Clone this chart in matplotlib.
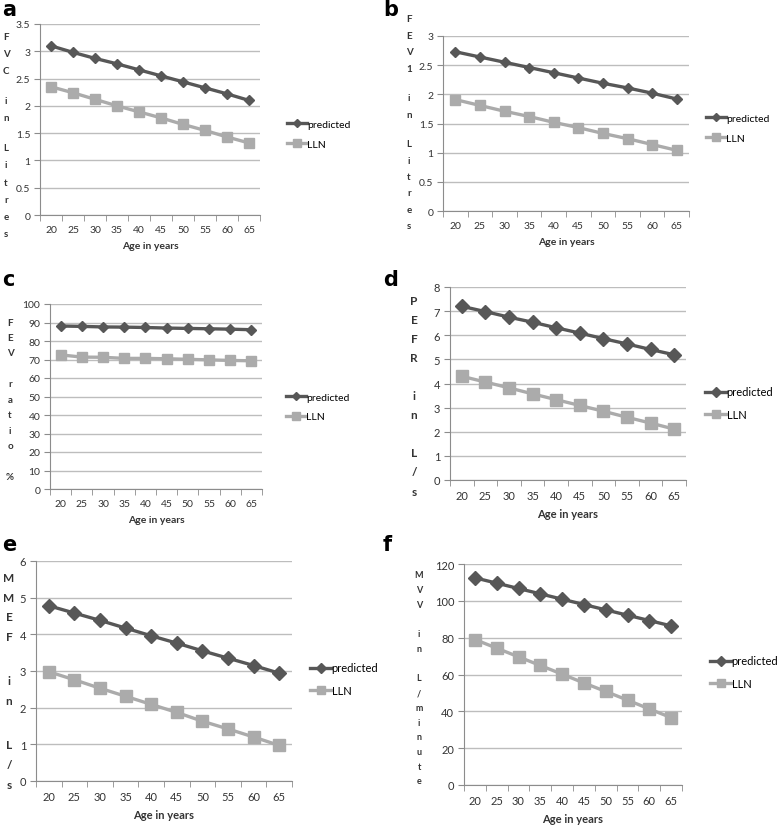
import matplotlib.pyplot as plt
from matplotlib.ticker import MultipleLocator, FormatStrFormatter

plt.rcParams['font.family'] = ['Lato', 'DejaVu Sans']

ages = [20, 25, 30, 35, 40, 45, 50, 55, 60, 65]

fvc_pred = [3.10, 2.98, 2.87, 2.77, 2.66, 2.55, 2.44, 2.33, 2.22, 2.10]
fvc_lln = [2.35, 2.24, 2.12, 2.00, 1.89, 1.78, 1.66, 1.55, 1.43, 1.32]

fev1_pred = [2.73, 2.64, 2.55, 2.46, 2.37, 2.28, 2.19, 2.11, 2.02, 1.92]
fev1_lln = [1.91, 1.81, 1.71, 1.62, 1.52, 1.43, 1.33, 1.24, 1.14, 1.04]

ratio_pred = [88.1, 87.9, 87.6, 87.5, 87.3, 87.0, 86.8, 86.6, 86.4, 86.1]
ratio_lln = [72.5, 71.3, 71.2, 70.6, 70.6, 70.4, 70.1, 69.8, 69.5, 69.3]

pefr_pred = [7.20, 6.98, 6.75, 6.54, 6.31, 6.09, 5.86, 5.64, 5.41, 5.19]
pefr_lln = [4.30, 4.06, 3.82, 3.57, 3.33, 3.09, 2.85, 2.60, 2.36, 2.11]

mmef_pred = [4.78, 4.58, 4.38, 4.17, 3.96, 3.76, 3.55, 3.35, 3.15, 2.94]
mmef_lln = [2.98, 2.76, 2.53, 2.31, 2.09, 1.87, 1.63, 1.42, 1.20, 0.97]

mvv_pred = [112.5, 109.6, 106.7, 103.8, 100.9, 98.0, 95.1, 92.2, 89.3, 86.4]
mvv_lln = [79.0, 74.3, 69.6, 64.9, 60.2, 55.4, 50.8, 46.1, 41.3, 36.6]

W, H = 778, 829
fig = plt.figure(figsize=(W / 100, H / 100), dpi=100)

DARK = '#575757'
LIGHT = '#ababab'
GRID = '#bdbdbd'
SPINE = '#8c8c8c'


def px_axes(l, r, t, b):
    return fig.add_axes([l / W, 1 - b / H, (r - l) / W, (b - t) / H])


def stacked(x, y0, text, step, gap, fs):
    # vertical letter-by-letter y label, like the original Excel export
    y = y0
    for ch in text:
        if ch == ' ':
            y += step * gap
            continue
        fig.text(x / W, 1 - y / H, ch, ha='center', va='center',
                 fontsize=fs, fontweight='bold', color='#333333')
        y += step


def panel(box, pred, lln, ymax, ystep, letter, letter_xy, ylab, leg_xy, fs, ms):
    ax = px_axes(*box)
    xs = range(len(ages))
    ax.plot(xs, pred, color=DARK, lw=2.4, marker='D', ms=ms * 0.85,
            label='predicted', zorder=3)
    ax.plot(xs, lln, color=LIGHT, lw=2.4, marker='s', ms=ms,
            label='LLN', zorder=3)
    ax.set_xlim(-0.5, len(ages) - 0.5)
    ax.set_ylim(0, ymax)
    ax.yaxis.set_major_locator(MultipleLocator(ystep))
    ax.yaxis.set_major_formatter(FormatStrFormatter('%g'))
    ax.set_xticks(list(xs))
    ax.set_xticklabels([str(a) for a in ages])
    ax.set_xticks([i - 0.5 for i in range(len(ages) + 1)], minor=True)
    ax.tick_params(axis='x', which='major', length=0, pad=7,
                   labelsize=fs, colors='#333333')
    ax.tick_params(axis='x', which='minor', length=4, color=SPINE)
    ax.tick_params(axis='y', length=4, color=SPINE, labelsize=fs,
                   colors='#333333', pad=3)
    ax.grid(axis='y', color=GRID, lw=1)
    ax.set_axisbelow(True)
    for s in ['top', 'right']:
        ax.spines[s].set_visible(False)
    for s in ['left', 'bottom']:
        ax.spines[s].set_color(SPINE)
    ax.set_xlabel('Age in years', fontsize=fs, fontweight='bold',
                  color='#333333', labelpad=5)
    ax.legend(loc='center left', bbox_to_anchor=(leg_xy[0] / W, 1 - leg_xy[1] / H),
              bbox_transform=fig.transFigure, frameon=False, fontsize=fs,
              handlelength=1.9, handletextpad=0.05, labelspacing=1.0,
              borderpad=0, borderaxespad=0, markerscale=0.8)
    fig.text(letter_xy[0] / W, 1 - letter_xy[1] / H, letter, fontsize=15,
             fontweight='bold', family='DejaVu Sans', va='top', ha='left')
    stacked(*ylab)
    return ax


panel((40, 260, 25, 216), fvc_pred, fvc_lln, 3.5, 0.5, 'a', (2, 0),
      (6, 37, 'FVC in Litres', 17.2, 0.75, 7), (287, 135), 7.5, 6.5)
panel((443, 689, 37, 212), fev1_pred, fev1_lln, 3, 0.5, 'b', (383, 0),
      (409, 20, 'FEV1 in Litres', 16.4, 0.8, 7), (706, 129), 7.5, 6.5)
panel((50, 262, 305, 490), ratio_pred, ratio_lln, 100, 10, 'c', (2, 270),
      (10, 323, 'FEV ratio %', 15.5, 1.0, 7), (286, 408), 7.5, 6.5)
panel((450, 686, 288, 481), pefr_pred, pefr_lln, 8, 1, 'd', (383, 270),
      (414, 302, 'PEFR in L/s', 19, 1.0, 8.5), (705, 404), 8, 8)
panel((36, 292, 562, 782), mmef_pred, mmef_lln, 6, 1, 'e', (2, 535),
      (9, 578, 'MMEF in L/s', 20, 1.2, 8.5), (310, 680), 8, 8)
panel((464, 682, 565, 786), mvv_pred, mvv_lln, 120, 20, 'f', (383, 535),
      (419, 576, 'MVV in L/minute', 14.7, 1.0, 6.5), (710, 673), 8, 8)

fig.savefig('out.png', dpi=100)
